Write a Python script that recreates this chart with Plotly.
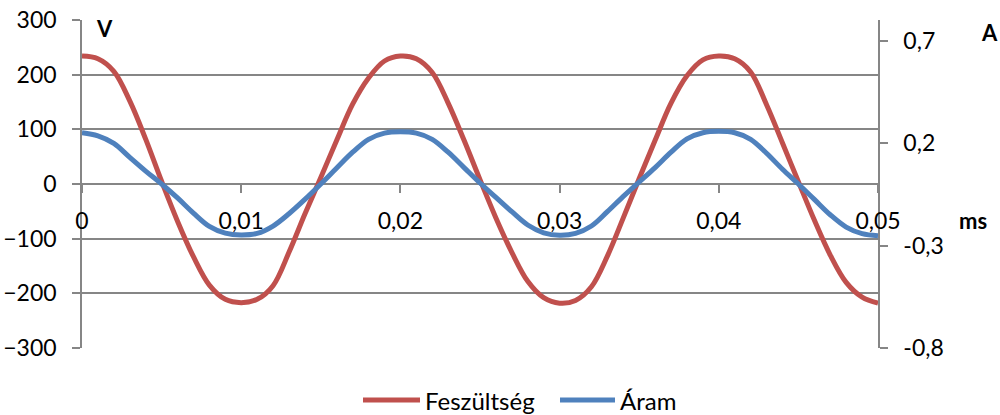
import plotly.graph_objects as go

# Time axis (ms) sampled every 0.001
time_ms = [round(i * 0.001, 3) for i in range(51)]

# Voltage (V), left axis
feszultseg = [
    234, 229, 206, 152, 82, 5, -68, -133, -185, -211,
    -217, -211, -186, -125, -55, 12, 80, 146, 194, 225,
    234, 229, 204, 148, 80, 8, -62, -125, -178, -208,
    -218, -213, -188, -132, -62, 10, 80, 148, 198, 227,
    234, 229, 205, 145, 75, 4, -66, -130, -180, -207,
    -218,
]

# Current (A), right axis
aram = [
    0.250, 0.235, 0.198, 0.130, 0.063, 0.000, -0.068, -0.142, -0.207, -0.240,
    -0.249, -0.241, -0.205, -0.145, -0.075, 0.000, 0.078, 0.155, 0.218, 0.248,
    0.255, 0.248, 0.218, 0.155, 0.080, 0.005, -0.065, -0.135, -0.200, -0.238,
    -0.250, -0.241, -0.205, -0.135, -0.060, 0.010, 0.080, 0.155, 0.220, 0.250,
    0.257, 0.250, 0.218, 0.150, 0.072, 0.000, -0.075, -0.150, -0.210, -0.242,
    -0.252,
]

x_tickvals = [0, 0.01, 0.02, 0.03, 0.04, 0.05]
x_ticktext = ["0", "0,01", "0,02", "0,03", "0,04", "0,05"]
y2_tickvals = [-0.8, -0.3, 0.2, 0.7]
y2_ticktext = ["-0,8", "-0,3", "0,2", "0,7"]

series_names = ["Feszültség", "Áram"]

RED = "#C0504D"
BLUE = "#4F81BD"
GRID = "#868686"
FONT = "Lato"
FS = 23

fig = go.Figure()
fig.add_trace(go.Scatter(
    x=time_ms, y=feszultseg, name=series_names[0], mode="lines",
    line=dict(color=RED, width=5, shape="spline", smoothing=1),
    yaxis="y", showlegend=False,
))
fig.add_trace(go.Scatter(
    x=time_ms, y=aram, name=series_names[1], mode="lines",
    line=dict(color=BLUE, width=5, shape="spline", smoothing=1),
    yaxis="y2", showlegend=False,
))

W, H = 1000, 415
L, R, T, B = 82, 122, 20, 67
pw, ph = W - L - R, H - T - B


def px_x(p):
    return (p - L) / pw


def px_y(p):
    return (H - B - p) / ph


# Legend below the plot: a short line swatch followed by the series name
legend_items = [(363, 420, 423, RED), (560, 615, 618, BLUE)]
shapes = []
annotations = []
for name, (x0, x1, tx, col) in zip(series_names, legend_items):
    shapes.append(dict(type="line", xref="paper", yref="paper",
                       x0=px_x(x0), x1=px_x(x1), y0=px_y(400), y1=px_y(400),
                       line=dict(color=col, width=5)))
    annotations.append(dict(text=name, x=px_x(tx), y=px_y(400), xref="paper", yref="paper",
                            showarrow=False, xanchor="left", yanchor="middle",
                            font=dict(family=FONT, size=24)))

for label, cx, cy in [("V", 104, 28.5), ("A", 989, 32), ("ms", 973, 220)]:
    annotations.append(dict(text=f"<b>{label}</b>", x=px_x(cx), y=px_y(cy),
                            xref="paper", yref="paper", showarrow=False,
                            xanchor="center", yanchor="middle",
                            font=dict(family=FONT, size=22)))

fig.update_layout(
    width=W, height=H,
    margin=dict(l=L, r=R, t=T, b=B, autoexpand=False),
    paper_bgcolor="white", plot_bgcolor="white",
    font=dict(family=FONT, size=FS, color="black"),
    showlegend=False,
    xaxis=dict(
        range=[0, 0.05], anchor="free", position=0.5,
        tickvals=x_tickvals, ticktext=x_ticktext,
        ticks="outside", ticklen=8, tickwidth=1.5, tickcolor=GRID,
        showgrid=False, zeroline=False, showline=False,
        ticklabelstandoff=8,
        tickfont=dict(family=FONT, size=FS),
    ),
    yaxis=dict(
        range=[-300, 300], dtick=100, tick0=0,
        ticks="outside", ticklen=8, tickwidth=1.5, tickcolor=GRID,
        showline=True, linecolor=GRID, linewidth=1.5,
        showgrid=True, gridcolor=GRID, gridwidth=1.5,
        zeroline=False, ticklabelstandoff=11,
        tickfont=dict(family=FONT, size=FS),
    ),
    yaxis2=dict(
        range=[-0.8, 0.8], overlaying="y", side="right",
        tickvals=y2_tickvals, ticktext=y2_ticktext,
        ticks="outside", ticklen=8, tickwidth=1.5, tickcolor=GRID,
        showline=True, linecolor=GRID, linewidth=1.5,
        showgrid=False, zeroline=False, ticklabelstandoff=11,
        tickfont=dict(family=FONT, size=FS),
    ),
    shapes=shapes,
    annotations=annotations,
)

fig.write_html("out.html")
